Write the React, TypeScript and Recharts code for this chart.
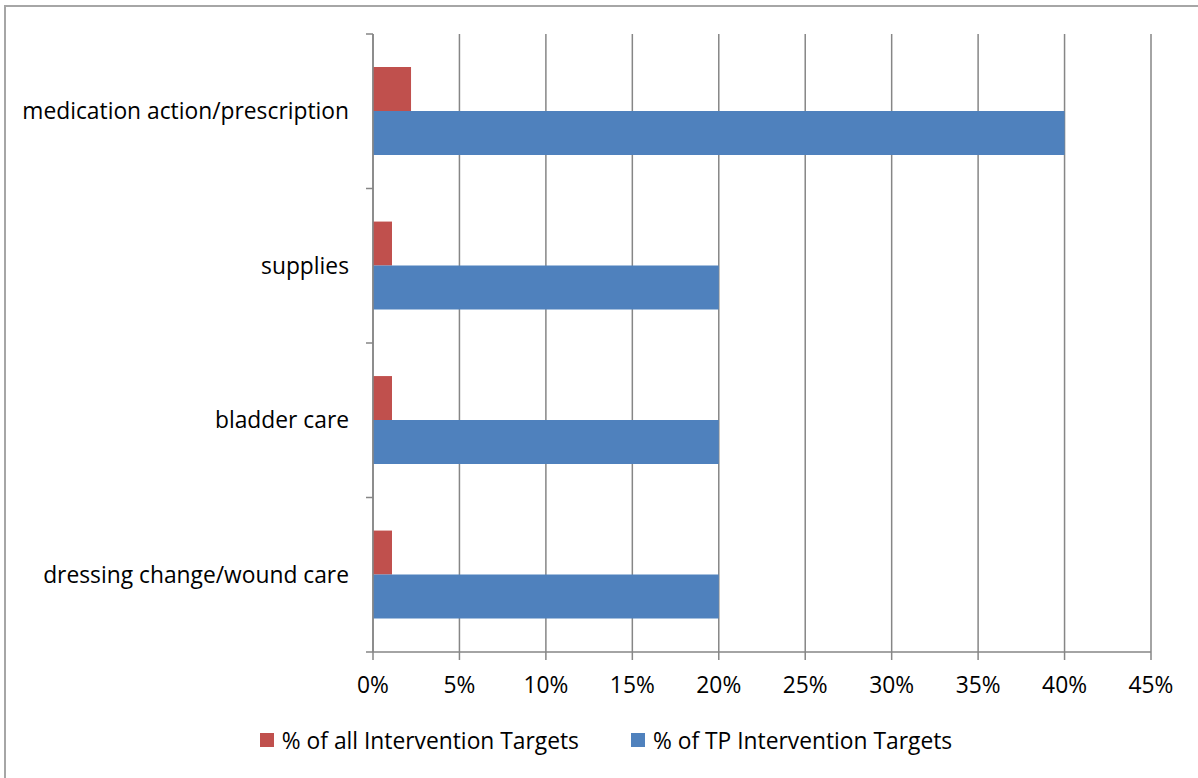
import React from 'react';
import { BarChart, Bar, XAxis, YAxis, CartesianGrid, Legend } from 'recharts';

// Categories, top to bottom
const categories = [
  'medication action/prescription',
  'supplies',
  'bladder care',
  'dressing change/wound care',
];

// Series values, in percent
const allTargets = [2.2, 1.1, 1.1, 1.1];
const tpTargets = [40, 20, 20, 20];

const seriesNames = ['% of all Intervention Targets', '% of TP Intervention Targets'];
const seriesColors = ['#C0504D', '#4F81BD'];

const xTicks = [0, 5, 10, 15, 20, 25, 30, 35, 40, 45];

const data = categories.map((category, i) => ({
  category,
  all: allTargets[i],
  tp: tpTargets[i],
}));

const WIDTH = 1198;
const HEIGHT = 778;
const FONT = '"Open Sans", sans-serif';
const FONT_SIZE = 22.8;
const AXIS_GRAY = '#868686';
const Y_TICK_SIZE = 7;
const Y_TICK_MARGIN = 17;
const MARGIN = { top: 34, right: 47, bottom: 46, left: 0 };
const X_AXIS_HEIGHT = 40;
const LEGEND_HEIGHT = 40;

// Category label plus tick marks on the band boundaries
const CategoryTick = (props: any) => {
  const { x, y, payload, index, visibleTicksCount } = props;
  const plotHeight = HEIGHT - MARGIN.top - MARGIN.bottom - X_AXIS_HEIGHT - LEGEND_HEIGHT;
  const half = payload && payload.offset ? payload.offset : plotHeight / (2 * categories.length);
  const axisX = x + Y_TICK_MARGIN + Y_TICK_SIZE;
  const isLast = index === (visibleTicksCount ?? categories.length) - 1;
  return (
    <g>
      <line x1={axisX - Y_TICK_SIZE} x2={axisX} y1={y - half} y2={y - half} stroke={AXIS_GRAY} strokeWidth={1.5} />
      {isLast && (
        <line x1={axisX - Y_TICK_SIZE} x2={axisX} y1={y + half} y2={y + half} stroke={AXIS_GRAY} strokeWidth={1.5} />
      )}
      <text x={x} y={y} dy="0.35em" textAnchor="end" fill="#000" fontSize={FONT_SIZE} fontFamily={FONT}>
        {payload.value}
      </text>
    </g>
  );
};

const LegendContent = () => (
  <div
    style={{
      height: LEGEND_HEIGHT,
      display: 'flex',
      justifyContent: 'center',
      alignItems: 'center',
      gap: 52,
      paddingLeft: 14,
      fontFamily: FONT,
      fontSize: FONT_SIZE,
      color: '#000',
    }}
  >
    {seriesNames.map((name, i) => (
      <div key={name} style={{ display: 'flex', alignItems: 'center' }}>
        <span style={{ width: 14, height: 14, background: seriesColors[i], marginRight: 8, display: 'inline-block' }} />
        <span>{name}</span>
      </div>
    ))}
  </div>
);

export default function App() {
  return (
    <div style={{ position: 'absolute', left: 0, top: 0, width: WIDTH, height: HEIGHT, background: '#fff', overflow: 'hidden' }}>
      <div
        style={{
          position: 'absolute',
          left: 4,
          top: 5,
          width: WIDTH + 20,
          height: HEIGHT + 20,
          borderLeft: '2px solid #a6a6a6',
          borderTop: '2px solid #a6a6a6',
        }}
      />
      <BarChart
        width={WIDTH}
        height={HEIGHT}
        data={data}
        layout="vertical"
        margin={MARGIN}
        barGap={0}
        barCategoryGap="21.4%"
      >
        <CartesianGrid horizontal={false} vertical stroke={AXIS_GRAY} strokeWidth={1.5} />
        <XAxis
          type="number"
          domain={[0, 45]}
          ticks={xTicks}
          tickFormatter={(v: number) => `${v}%`}
          height={X_AXIS_HEIGHT}
          tickSize={8}
          tickMargin={17}
          axisLine={{ stroke: AXIS_GRAY, strokeWidth: 1.5 }}
          tickLine={{ stroke: AXIS_GRAY, strokeWidth: 1.5 }}
          tick={{ fill: '#000', fontSize: FONT_SIZE, fontFamily: FONT }}
          interval={0}
        />
        <YAxis
          type="category"
          dataKey="category"
          width={373}
          tickSize={Y_TICK_SIZE}
          tickMargin={Y_TICK_MARGIN}
          tickLine={false}
          axisLine={{ stroke: AXIS_GRAY, strokeWidth: 1.5 }}
          tick={<CategoryTick />}
          interval={0}
        />
        <Legend
          verticalAlign="bottom"
          height={LEGEND_HEIGHT}
          content={<LegendContent />}
          wrapperStyle={{ top: 720, left: 0, width: WIDTH }}
        />
        <Bar dataKey="all" name={seriesNames[0]} fill={seriesColors[0]} isAnimationActive={false} />
        <Bar dataKey="tp" name={seriesNames[1]} fill={seriesColors[1]} isAnimationActive={false} />
      </BarChart>
    </div>
  );
}
